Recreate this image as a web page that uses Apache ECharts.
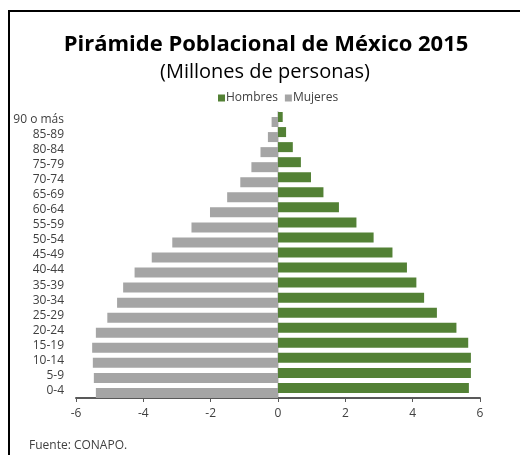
<!DOCTYPE html>
<html>
<head>
<meta charset="utf-8">
<script src="https://cdn.jsdelivr.net/npm/echarts@6/dist/echarts.min.js"></script>
<style>
  html, body { margin: 0; padding: 0; background: #fff; }
  #chart { width: 520px; height: 455px; }
</style>
</head>
<body>
<div id="chart"></div>
<script>
// age groups, bottom to top
const ageGroups = ["0-4", "5-9", "10-14", "15-19", "20-24", "25-29", "30-34", "35-39", "40-44",
  "45-49", "50-54", "55-59", "60-64", "65-69", "70-74", "75-79", "80-84", "85-89", "90 o más"];
// millions of people
const hombres = [5.67, 5.73, 5.73, 5.65, 5.30, 4.72, 4.34, 4.11, 3.83,
  3.40, 2.84, 2.33, 1.81, 1.35, 0.98, 0.68, 0.44, 0.24, 0.14];
const mujeres = [-5.41, -5.47, -5.50, -5.52, -5.41, -5.07, -4.78, -4.60, -4.26,
  -3.75, -3.14, -2.57, -2.02, -1.51, -1.12, -0.79, -0.52, -0.30, -0.19];
const xTicks = { min: -6, max: 6, interval: 2 };

const chart = echarts.init(document.getElementById("chart"));
const font = "'Open Sans', 'Noto Sans', sans-serif";

chart.setOption({
  animation: false,
  textStyle: { fontFamily: font },
  graphic: [
    {
      type: "rect",
      shape: { x: 9, y: 11, width: 600, height: 500 },
      style: { fill: "none", stroke: "#000", lineWidth: 2 },
    },
    {
      type: "text",
      x: 266,
      y: 45,
      style: {
        text: "Pirámide Poblacional de México 2015",
        fontSize: 22, fontWeight: "bold", fill: "#000", fontFamily: font,
        align: "center", verticalAlign: "middle",
      },
    },
    {
      type: "text",
      x: 265,
      y: 72,
      style: {
        text: "(Millones de personas)",
        fontSize: 20, fill: "#000", fontFamily: font,
        align: "center", verticalAlign: "middle",
      },
    },
    {
      type: "text",
      left: 29,
      top: 440,
      style: { text: "Fuente: CONAPO.", fontSize: 12, fill: "#404040", fontFamily: font },
    },
  ],
  legend: {
    top: 87,
    left: 213,
    itemWidth: 7,
    itemHeight: 7,
    itemGap: 7,
    icon: "rect",
    textStyle: { fontSize: 12, color: "#404040", padding: [0, 0, 0, -4] },
    data: ["Hombres", "Mujeres"],
  },
  grid: { left: 76, right: 40, top: 112, bottom: 57 },
  xAxis: {
    type: "value",
    min: xTicks.min,
    max: xTicks.max,
    interval: xTicks.interval,
    axisLine: { show: true, onZero: false, lineStyle: { color: "#595959", width: 2 } },
    axisTick: { show: true, length: 4, lineStyle: { color: "#595959" } },
    axisLabel: { color: "#404040", fontSize: 12, margin: 10 },
    splitLine: { show: false },
  },
  yAxis: [
    {
      type: "category",
      data: ageGroups,
      axisLine: { show: false, onZero: false },
      axisTick: { show: false },
      axisLabel: { color: "#404040", fontSize: 12, margin: 12, interval: 0 },
    },
    {
      type: "category",
      data: ageGroups,
      position: "left",
      axisLine: { show: true, onZero: true, lineStyle: { color: "#d9d9d9", width: 2 } },
      axisTick: { show: false },
      axisLabel: { show: false },
    },
  ],
  series: [
    {
      name: "Hombres",
      type: "bar",
      data: hombres,
      barWidth: 10,
      barGap: "-50%",
      itemStyle: { color: "#538135" },
    },
    {
      name: "Mujeres",
      type: "bar",
      data: mujeres,
      barWidth: 10,
      barGap: "-50%",
      itemStyle: { color: "#a5a5a5" },
    },
  ],
});
</script>
</body>
</html>
